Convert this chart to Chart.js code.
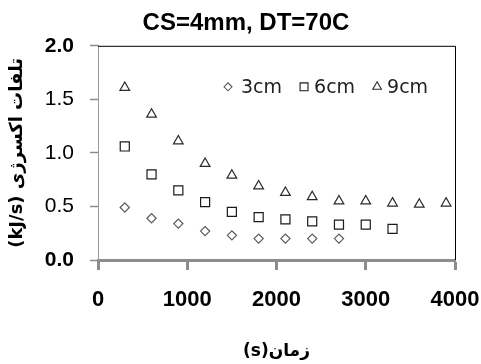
<!DOCTYPE html>
<html>
<head>
<meta charset="utf-8">
<script src="https://cdn.jsdelivr.net/npm/chart.js@4/dist/chart.umd.min.js"></script>
<style>
  html, body { margin: 0; padding: 0; background: #fff; }
  #wrap { width: 481px; height: 364px; }
</style>
</head>
<body>
<div id="wrap"><canvas id="c" width="481" height="364"></canvas></div>
<script>
// Sampling times (s)
const times = [300, 600, 900, 1200, 1500, 1800, 2100, 2400, 2700, 3000, 3300, 3600, 3900];
// Exergy loss (kJ/s) for each collector spacing
const seriesNames = ['3cm', '6cm', '9cm'];
const loss3cm = [0.49, 0.39, 0.34, 0.27, 0.23, 0.20, 0.20, 0.20, 0.20];
const loss6cm = [1.06, 0.80, 0.65, 0.54, 0.45, 0.40, 0.38, 0.36, 0.33, 0.33, 0.29];
const loss9cm = [1.61, 1.36, 1.11, 0.90, 0.79, 0.69, 0.63, 0.59, 0.55, 0.55, 0.53, 0.52, 0.53];
const xTicks = [0, 1000, 2000, 3000, 4000];
const yTicks = [0.0, 0.5, 1.0, 1.5, 2.0];

const FONT = "'Liberation Sans', 'DejaVu Sans', sans-serif";
const LEGEND_FONT = "'DejaVu Sans', sans-serif";

function toPoints(vals) {
  return vals.map((v, i) => ({ x: times[i], y: v }));
}

const styles = [
  { pointStyle: 'rectRot', radius: 4.6, legendRadius: 4, color: '#5a5a5a' },
  { pointStyle: 'rect', radius: 6.4, legendRadius: 5.6, color: '#1a1a1a' },
  { pointStyle: 'triangle', radius: 5.6, legendRadius: 5, color: '#2a2a2a' }
];
const allValues = [loss3cm, loss6cm, loss9cm];

const datasets = allValues.map((vals, k) => ({
  label: seriesNames[k],
  data: toPoints(vals),
  showLine: false,
  pointStyle: styles[k].pointStyle,
  pointRadius: styles[k].radius,
  pointHoverRadius: styles[k].radius,
  pointBorderWidth: 1.2,
  pointBorderColor: styles[k].color,
  pointBackgroundColor: '#ffffff'
}));

// Frame on the top and right of the plot area
const framePlugin = {
  id: 'frame',
  beforeDatasetsDraw(chart) {
    const { ctx, chartArea: a } = chart;
    ctx.save();
    ctx.strokeStyle = '#000';
    ctx.lineWidth = 1;
    ctx.beginPath();
    ctx.moveTo(a.left, a.top + 0.5);
    ctx.lineTo(a.right + 0.5, a.top + 0.5);
    ctx.lineTo(a.right + 0.5, a.bottom);
    ctx.stroke();
    ctx.restore();
  }
};

// Horizontal legend placed inside the plot area
const legendPlugin = {
  id: 'innerLegend',
  afterDatasetsDraw(chart) {
    const { ctx, chartArea: a } = chart;
    ctx.save();
    ctx.font = "19px " + LEGEND_FONT;
    ctx.textBaseline = 'middle';
    let x = a.left + 130;
    const y = a.top + 41;
    chart.data.datasets.forEach((ds, k) => {
      ctx.lineWidth = 1.1;
      ctx.strokeStyle = ds.pointBorderColor;
      ctx.fillStyle = '#fff';
      Chart.helpers.drawPoint(ctx, {
        pointStyle: ds.pointStyle,
        rotation: 0,
        radius: styles[k].legendRadius,
        borderWidth: 1.1
      }, x, y);
      ctx.fillStyle = '#222';
      const tx = x + (k === 0 ? 13 : 10);
      ctx.fillText(ds.label, tx, y + 1);
      x = tx + ctx.measureText(ds.label).width + 22;
    });
    ctx.restore();
  }
};

new Chart(document.getElementById('c'), {
  type: 'scatter',
  data: { datasets },
  plugins: [framePlugin, legendPlugin],
  options: {
    responsive: false,
    animation: false,
    events: [],
    layout: { padding: { left: 11, right: 0, top: 0, bottom: 0 } },
    plugins: {
      legend: { display: false },
      tooltip: { enabled: false },
      title: {
        display: true,
        text: 'CS=4mm, DT=70C',
        color: '#000',
        font: { family: FONT, size: 24, weight: 'bold' },
        padding: { top: 9, bottom: 8 }
      }
    },
    scales: {
      x: {
        type: 'linear',
        min: xTicks[0],
        max: xTicks[xTicks.length - 1],
        afterFit(scale) { scale.height = 104; scale.paddingLeft = 0; scale.paddingRight = 26; },
        afterBuildTicks(scale) { scale.ticks = xTicks.map(v => ({ value: v })); },
        border: { display: true, color: '#8c8c8c', width: 3 },
        grid: { drawOnChartArea: false, drawTicks: true, tickLength: 10, tickWidth: 3, tickColor: '#8c8c8c' },
        ticks: {
          color: '#000',
          font: { family: FONT, size: 22, weight: 'bold' },
          padding: 17,
          maxRotation: 0,
          callback: v => String(v)
        },
        title: {
          display: true,
          text: '\u2067زمان(s)\u2069',
          color: '#000',
          font: { family: "'DejaVu Sans', sans-serif", size: 17, weight: 'bold' },
          padding: { top: 0, bottom: 2 }
        }
      },
      y: {
        type: 'linear',
        min: yTicks[0],
        max: yTicks[yTicks.length - 1],
        afterFit(scale) { scale.width = 87; scale.paddingTop = 0; scale.paddingBottom = 0; },
        afterBuildTicks(scale) { scale.ticks = yTicks.map(v => ({ value: v })); },
        border: { display: true, color: '#9a9a9a', width: 1 },
        grid: { drawOnChartArea: false, drawTicks: true, tickLength: 8, tickWidth: 1.5, tickColor: '#8c8c8c' },
        ticks: {
          color: '#000',
          font: ctx => ({
            family: FONT,
            size: 21,
            weight: (ctx.tick && (ctx.tick.value === 0 || ctx.tick.value === 2)) ? 'bold' : 'normal'
          }),
          padding: 16,
          callback: v => Number(v).toFixed(1)
        },
        title: {
          display: true,
          text: '\u2067تلفات اکسرژی (kJ/s)\u2069',
          color: '#000',
          font: { family: "'DejaVu Sans', sans-serif", size: 18, weight: 'bold' },
          padding: { top: -4, bottom: 0 }
        }
      }
    }
  }
});
</script>
</body>
</html>
